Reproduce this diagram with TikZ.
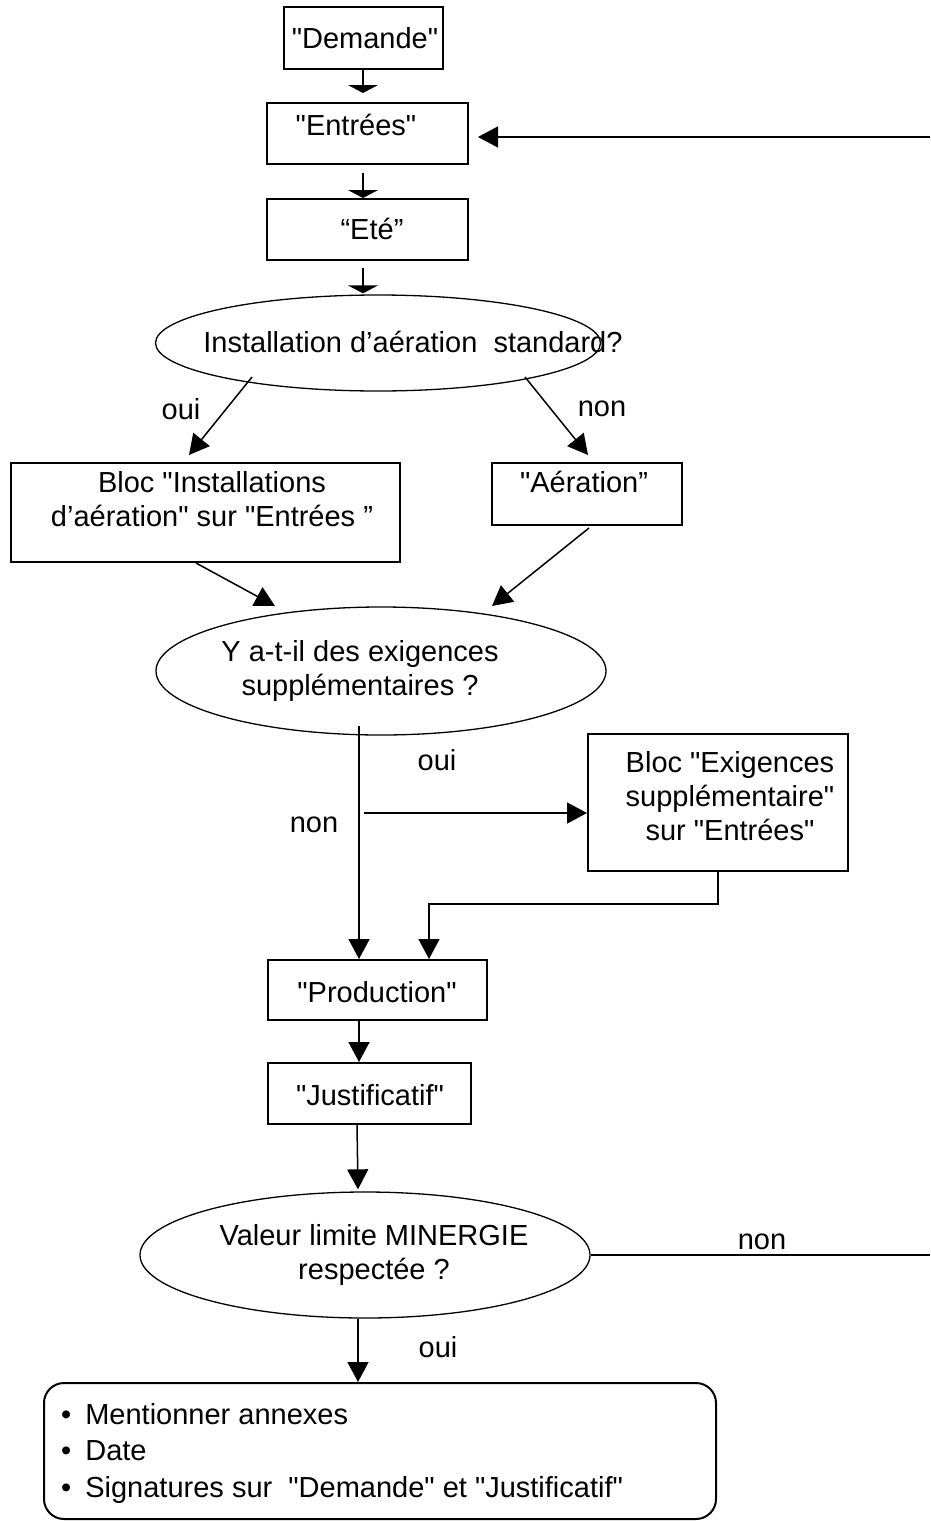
\documentclass[tikz,border=0pt]{standalone}
\usepackage{fontspec}
\newfontfamily\lib{Liberation Sans}
\usetikzlibrary{arrows.meta,shapes.geometric,calc}
\newcommand{\bul}{•\hspace{14pt}}
\begin{document}
\begin{tikzpicture}[x=1pt,y=-1pt,
  every node/.style={font=\lib\fontsize{29}{34}\selectfont, inner sep=0pt},
  box/.style={draw, line width=2pt, rectangle},
  oval/.style={draw, line width=1.3pt, ellipse},
  txt/.style={align=center},
  con/.style={line width=1.5pt},
  big/.style={con, -{Triangle[width=21pt,length=20pt]}},
  flat/.style={con, -{Triangle[width=30pt,length=8pt]}}]
\useasboundingbox (0,0) rectangle (930,1521);

% boxes
\node[box, minimum width=159pt, minimum height=62pt] (dem) at (363.5,38) {};
\node (demT) at (365,38) {"Demande"};
\node[box, minimum width=201pt, minimum height=61pt] (ent) at (367.5,133.5) {};
\node (entT) at (356,125) {"Entrées"};
\node[box, minimum width=201pt, minimum height=61pt] (ete) at (367.5,229.5) {};
\node (eteT) at (372,229) {“Eté”};

\node[oval, minimum width=445pt, minimum height=96pt] (e1) at (378,343) {};
\node (e1T) at (413,342) {Installation d’aération\ \ standard?};

\node[box, minimum width=389pt, minimum height=99pt] (bloc1) at (205.5,512.5) {};
\node[txt] (bloc1T) at (212,499) {Bloc "Installations\\d’aération" sur "Entrées ”};
\node[box, minimum width=190pt, minimum height=62pt] (aer) at (587,494) {};
\node (aerT) at (584,482) {"Aération”};

\node[oval, minimum width=450pt, minimum height=128pt] (e2) at (381,671) {};
\node[txt] (e2T) at (360,671) {Y a-t-il des exigences\\supplémentaires ?};

\node[box, minimum width=260pt, minimum height=137pt] (exig) at (718,802.5) {};
\node[txt] (exigT) at (730,796) {Bloc "Exigences\\supplémentaire"\\sur "Entrées"};

\node[box, minimum width=219pt, minimum height=60pt] (prod) at (377.5,990) {};
\node (prodT) at (377,992) {"Production"};
\node[box, minimum width=203pt, minimum height=61pt] (just) at (369.5,1093.5) {};
\node (justT) at (370,1095) {"Justificatif"};

\node[oval, minimum width=450pt, minimum height=126pt] (e3) at (365,1255) {};
\node[txt] (e3T) at (374,1255) {Valeur limite MINERGIE\\respectée ?};

\node[box, rounded corners=20pt, minimum width=672pt, minimum height=136pt] (fin) at (380,1451) {};
\node[anchor=west, align=left, font=\lib\fontsize{29}{36.5}\selectfont] (finT) at (61,1453)
  {\bul Mentionner annexes\\\bul Date\\\bul Signatures sur\ \ "Demande" et "Justificatif"};

% labels
\node (l1) at (181,409) {oui};
\node (l2) at (602,409) {non};
\node (l3) at (437,760) {oui};
\node (l4) at (314,825) {non};
\node (l5) at (762,1242) {non};
\node (l6) at (438,1347) {oui};

% connectors
\draw[flat] ([xshift=-0.5pt]dem.south) -- ([xshift=-4.5pt,yshift=9pt]ent.north);
\draw[flat] ([xshift=-4.5pt,yshift=-8pt]ent.south) -- ([xshift=-4.5pt]ete.north);
\draw[flat] ([xshift=-4.5pt,yshift=-7pt]ete.south) -- ([xshift=-15pt,yshift=1pt]e1.north);

\coordinate (rt1) at (930,137);
\draw[big] (rt1) -- ($(ent.east |- rt1)+(9,0)$);

\draw[big] ($(e1.center)+(-126,34)$) -- ($(bloc1.north)+(-16.5,-7)$);
\draw[big] ($(e1.center)+(147,34)$) -- ($(aer.north)+(1,-7)$);
\draw[big] ($(bloc1.south)+(-9.5,0)$) -- ($(e2.center)+(-106,-65)$);
\draw[big] ($(aer.south)+(2,2)$) -- ($(e2.center)+(111,-65)$);

\coordinate (e2s) at ($(e2.center)+(-22,55)$);
\draw[big] (e2s) -- (e2s |- prod.north);
\coordinate (br) at (364,813);
\draw[big] (br) -- (br -| exig.west);
\draw[big] (exig.south) -- ++(0,32) -| ($(prod.north)+(51.5,0)$);

\draw[big] ($(prod.south)+(-18.5,0)$) -- ($(just.north)+(-10.5,0)$);
\draw[big] ($(just.south)+(-12.5,0)$) -- ($(e3.north)+(-7,-2)$);
\draw[big] ($(e3.south)+(-7,0)$) -- ($(fin.north)+(-22,0)$);

\coordinate (rt2) at (930,1255);
\draw[con] (e3.east) -- (rt2);
\end{tikzpicture}
\end{document}
